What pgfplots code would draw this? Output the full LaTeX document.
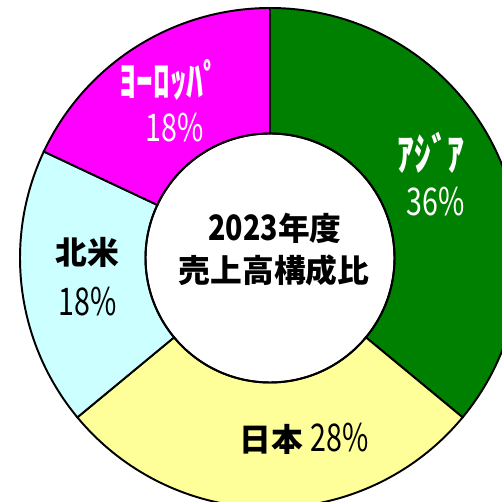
\documentclass[border=0pt]{standalone}
\usepackage{pgfplots}
\pgfplotsset{compat=1.18}
\usepackage{graphicx}
\usepackage{fontspec}
\setmainfont{Noto Sans CJK JP}

\definecolor{asia}{RGB}{0,128,0}
\definecolor{japan}{RGB}{255,255,153}
\definecolor{namerica}{RGB}{204,255,255}
\definecolor{europe}{RGB}{255,0,255}

% shares in percent, clockwise from 12 o'clock
\def\vAsia{36}
\def\vJapan{28}
\def\vNA{18}
\def\vEurope{18}
\def\ri{0.498}% inner radius (outer = 1)

\newcommand\ringwedge[3]{%
  \filldraw[fill=#3, draw=black, line width=1.1pt]
    (axis cs:{cos(#1)},{sin(#1)}) arc[start angle=#1, end angle=#2, radius=1]
    -- (axis cs:{\ri*cos(#2)},{\ri*sin(#2)})
    arc[start angle=#2, end angle=#1, radius=\ri] -- cycle;}
\tikzset{lbl/.style={font=\fontsize{18}{22}\selectfont, inner sep=0pt}}
\newcommand\pct[1]{\scalebox{0.9}[1.2]{#1}}
\newcommand\kana[1]{\scalebox{1.05}[1.4]{\bfseries #1}}

\begin{document}
\begin{tikzpicture}
% cumulative angles
\pgfmathsetmacro\aA{90}
\pgfmathsetmacro\aB{\aA-3.6*\vAsia}
\pgfmathsetmacro\aC{\aB-3.6*\vJapan}
\pgfmathsetmacro\aD{\aC-3.6*\vNA}
\pgfmathsetmacro\aE{\aD-3.6*\vEurope}
\begin{axis}[
  scale only axis, width=10cm, height=10cm,
  xmin=-1.08, xmax=0.928, ymin=-0.976, ymax=1.032,
  hide axis, clip=true, clip bounding box=upper bound,
]
\path (rel axis cs:0,0) rectangle (rel axis cs:1,1);
\ringwedge{\aA}{\aB}{asia}
\ringwedge{\aB}{\aC}{japan}
\ringwedge{\aC}{\aD}{namerica}
\ringwedge{\aD}{\aE}{europe}
\draw[black, line width=1.1pt] (axis cs:0,0) circle[radius=\ri];

\node[lbl, text=white] at (axis cs:-0.40,0.712) {\kana{ﾖｰﾛｯﾊﾟ}};
\node[lbl, text=white] at (axis cs:-0.38,0.52) {\pct{18\%}};
\node[lbl, text=white] at (axis cs:0.644,0.42) {\kana{ｱｼﾞｱ}};
\node[lbl, text=white] at (axis cs:0.664,0.224) {\pct{36\%}};
\node[lbl] at (axis cs:-0.732,0.024) {\bfseries 北米};
\node[lbl] at (axis cs:-0.728,-0.176) {\pct{18\%}};
\node[lbl] at (axis cs:0.136,-0.724) {{\bfseries 日本} \pct{28\%}};
\node[lbl] at (axis cs:0.02,0.12) {\bfseries \scalebox{0.9}[1.1]{2023}年度};
\node[lbl] at (axis cs:0.016,-0.048) {\bfseries 売上高構成比};
\end{axis}
\end{tikzpicture}
\end{document}
